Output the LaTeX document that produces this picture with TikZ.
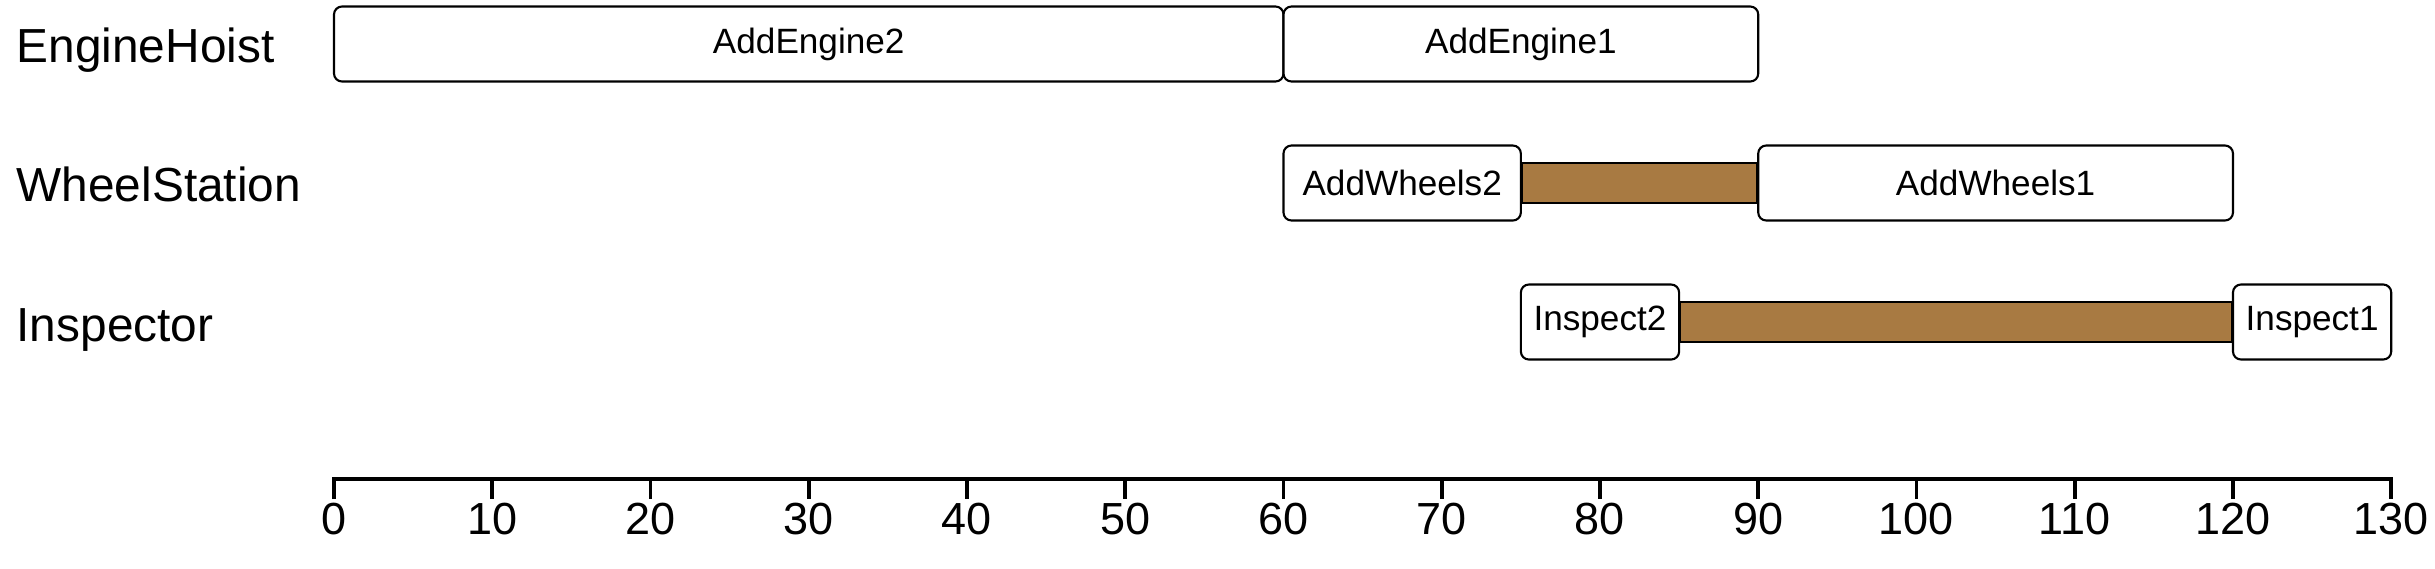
\documentclass[tikz,border=0pt]{standalone}
\usepackage{fontspec}
\setmainfont{Liberation Sans}
\definecolor{barbrown}{RGB}{168,122,66}
\begin{document}
\begin{tikzpicture}[
    task/.style={draw, line width=0.6pt, rounded corners=0.08cm, fill=white, minimum height=0.75cm, inner sep=0pt, font=\fontsize{10}{12}\selectfont},
    wait/.style={draw, line width=0.6pt, fill=barbrown},
    lane/.style={anchor=base west, inner sep=0pt, font=\fontsize{13.6}{16}\selectfont},
    ticklabel/.style={inner sep=0pt, font=\fontsize{12.8}{15}\selectfont},
    axis/.style={line width=1.1pt}
  ]
  \useasboundingbox (0,0) rectangle (24.35,-5.68);
  % machine names
  \node[lane] (hoist) at (0.16,-0.62) {EngineHoist};
  \node[lane] (wheels) at (0.16,-2.01) {WheelStation};
  \node[lane] (insp) at (0.16,-3.41) {Inspector};
  \begin{scope}[shift={(3.34,0)}, x=0.15825cm]
    % tasks, width = duration
    \node[task, minimum width=60*0.15825cm] (ae2) at (30,-0.44) {AddEngine2};
    \node[task, minimum width=30*0.15825cm] (ae1) at (75,-0.44) {AddEngine1};
    \node[task, minimum width=15*0.15825cm] (aw2) at (67.5,-1.83) {AddWheels2};
    \node[task, minimum width=30*0.15825cm] (aw1) at (105,-1.83) {AddWheels1};
    \node[task, minimum width=10*0.15825cm] (in2) at (80,-3.22) {Inspect2};
    \node[task, minimum width=10*0.15825cm] (in1) at (125,-3.22) {Inspect1};
    % waiting between tasks
    \draw[wait] ([yshift=0.2cm]aw2.east) rectangle ([yshift=-0.2cm]aw1.west);
    \draw[wait] ([yshift=0.2cm]in2.east) rectangle ([yshift=-0.2cm]in1.west);
    % time axis
    \draw[axis] (0,-4.99) -- (0,-4.79) -- (130,-4.79) -- (130,-4.99);
    \foreach \t in {0,10,...,130} {
      \draw[axis] (\t,-4.79) -- (\t,-4.99);
      \node[ticklabel] (t\t) at (\t,-5.19) {\t};
    }
  \end{scope}
\end{tikzpicture}
\end{document}
